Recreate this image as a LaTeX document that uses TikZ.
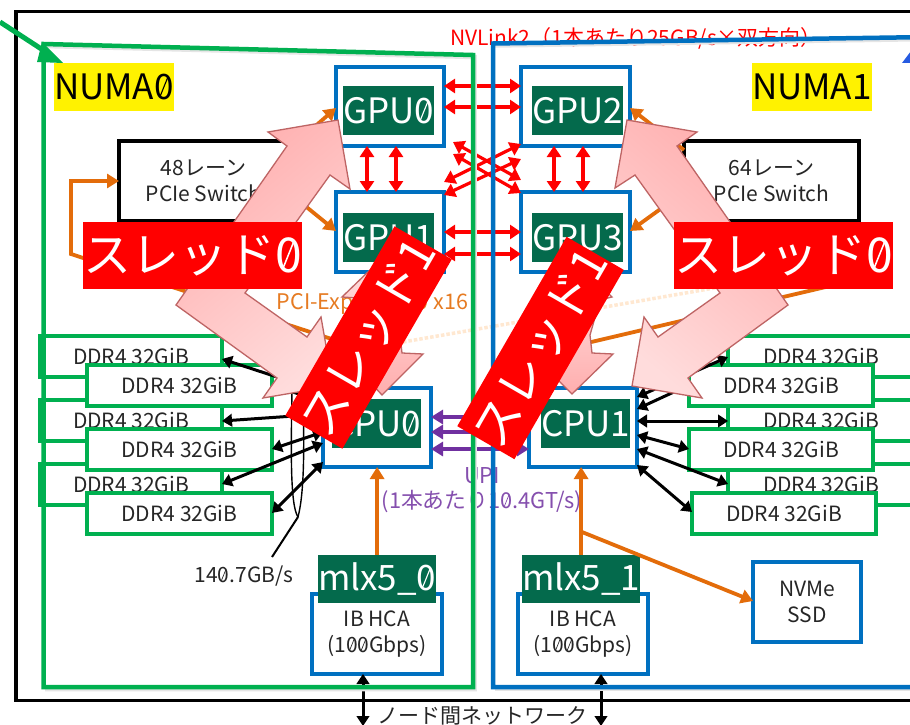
\documentclass[tikz,border=0pt]{standalone}
\usepackage{fontspec}
\usepackage{graphicx}
\setmainfont{Noto Sans CJK JP}
\usetikzlibrary{arrows.meta}
\definecolor{gr}{HTML}{00B050}
\definecolor{bl}{HTML}{0070C0}
\definecolor{dg}{HTML}{046A4C}
\definecolor{orng}{HTML}{E36C0A}
\definecolor{purp}{HTML}{7030A0}
\definecolor{redc}{HTML}{FF0000}
\definecolor{pinkd}{HTML}{FFAEAE}
\definecolor{pinkl}{HTML}{FFDCDC}
\definecolor{pinke}{HTML}{BE6464}
\newcommand\rectnode[7]{\pgfmathsetmacro\bw{#5-#3}\pgfmathsetmacro\bh{#6-#4}\node[#2,anchor=north west,minimum width=\bw pt,minimum height=\bh pt] (#1) at (#3,#4) {#7};}
% slashed zero
\newcommand\zs{\mbox{\setbox0=\hbox{0}\rlap{0}\hbox to\wd0{\hss\raisebox{0.365em}{\rotatebox[origin=c]{68}{\rule[-0.016em]{0.6em}{0.032em}}}\hss}}}
\tikzset{
  every node/.style={outer sep=0pt,inner sep=0pt},
  bluebox/.style={draw=bl,line width=3.6pt,fill=white,align=center,font=\fontsize{21}{26}\selectfont,text=black!85},
  blackbox/.style={draw=black,line width=3.6pt,fill=white,align=center,font=\fontsize{21}{25.5}\selectfont,text=black!85},
  ddrbox/.style={draw=gr,line width=3.8pt,fill=white,font=\fontsize{21}{25}\selectfont,text=black!85},
  chip/.style={fill=dg,text=white,font=\fontsize{35}{40}\selectfont},
  numalabel/.style={fill=yellow,text=black,font=\fontsize{35}{40}\selectfont},
  threadbox/.style={fill=redc,text=white,font=\fontsize{48}{55}\selectfont},
  plain/.style={font=\fontsize{21}{25}\selectfont,text=black!85},
  redarrow/.style={draw=redc,line width=3.2pt,{Triangle[length=11pt,width=14pt]}-{Triangle[length=11pt,width=14pt]}},
  blackarrow/.style={draw=black,line width=3pt,{Triangle[length=10pt,width=12.5pt]}-{Triangle[length=10pt,width=12.5pt]}},
  purplearrow/.style={draw=purp,line width=3.4pt,{Triangle[length=12pt,width=14pt]}-{Triangle[length=12pt,width=14pt]}},
  orangearrow/.style={draw=orng,line width=3.8pt,-{Triangle[length=12pt,width=14pt]}},
  orangeline/.style={draw=orng,line width=3.8pt},
  panelshadow/.style={draw=black!10,line width=4.5pt},
  bigarrow/.style={draw=pinke,line width=1.3pt,line join=miter},
}
\begin{document}
\begin{tikzpicture}[x=1pt,y=-1pt]
\useasboundingbox (0,0) rectangle (910,725);
\fill[white] (0,0) rectangle (910,725);
% pale dotted line
\draw[draw=orange!18!white,line width=3.5pt,dotted] (403,342) -- (720,287);
% outer frame
\draw[black,line width=3.6pt] (930,11.5) -- (16,11.5) -- (16,700.5) -- (930,700.5);
% back DDR
\rectnode{ddrA}{ddrbox}{40}{336}{222}{377}{DDR4 32GiB}
\rectnode{ddrB}{ddrbox}{40}{400}{222}{441}{DDR4 32GiB}
\rectnode{ddrC}{ddrbox}{40}{464}{222}{505}{DDR4 32GiB}
\rectnode{ddrG}{ddrbox}{728}{336}{914}{377}{DDR4 32GiB}
\rectnode{ddrH}{ddrbox}{728}{400}{914}{441}{DDR4 32GiB}
\rectnode{ddrI}{ddrbox}{728}{464}{914}{505}{DDR4 32GiB}
% front DDR
\rectnode{ddrD}{ddrbox}{87}{365}{272}{406}{DDR4 32GiB}
\rectnode{ddrE}{ddrbox}{87}{429}{272}{470}{DDR4 32GiB}
\rectnode{ddrF}{ddrbox}{87}{493}{272}{534}{DDR4 32GiB}
\rectnode{ddrJ}{ddrbox}{689}{365}{873}{406}{DDR4 32GiB}
\rectnode{ddrK}{ddrbox}{689}{429}{873}{470}{DDR4 32GiB}
\rectnode{ddrL}{ddrbox}{692}{493}{876}{534}{DDR4 32GiB}
% switches
\rectnode{swL}{blackbox}{119}{141}{288}{221}{48レーン\\PCIe Switch}
\rectnode{swR}{blackbox}{684}{141}{859}{221}{64レーン\\PCIe Switch}
% GPU
\rectnode{gpu0}{bluebox}{336}{67}{444}{146}{}
\rectnode{gpu1}{bluebox}{336}{192}{444}{272}{}
\rectnode{gpu2}{bluebox}{521}{67}{630}{146}{}
\rectnode{gpu3}{bluebox}{521}{192}{630}{272}{}
\rectnode{gpu0t}{chip}{343}{86}{433}{135}{GPU\zs}
\rectnode{gpu1t}{chip}{343}{213}{433}{262}{GPU1}
\rectnode{gpu2t}{chip}{532}{86}{622}{135}{GPU2}
\rectnode{gpu3t}{chip}{532}{213}{622}{262}{GPU3}
% CPU
\rectnode{cpu0}{bluebox}{323}{388}{431}{467}{}
\rectnode{cpu1}{bluebox}{529}{388}{637}{467}{}
\rectnode{cpu0t}{chip}{332}{399}{419}{448}{CPU\zs}
\rectnode{cpu1t}{chip}{541}{399}{629}{448}{CPU1}
% HCA, NVMe
\rectnode{hca0}{bluebox}{312}{594}{442}{674}{IB HCA\\(1\zs\zs Gbps)}
\rectnode{hca1}{bluebox}{518}{594}{648}{674}{IB HCA\\(1\zs\zs Gbps)}
\rectnode{mlx0}{chip}{318}{555}{436}{603}{mlx5\_\zs}
\rectnode{mlx1}{chip}{522}{555}{639}{603}{mlx5\_1}
\rectnode{nvme}{bluebox}{753}{562}{861}{642}{NVMe\\SSD}
% labels
\rectnode{numa0}{numalabel}{54}{63}{173}{111}{NUMA\zs}
\rectnode{numa1}{numalabel}{752}{63}{870}{111}{NUMA1}
\node[font=\fontsize{21}{25}\selectfont,text=redc] (nvlabel) at (636,38) {NVLink2（1本あたり25GB/s×双方向）};
\node[font=\fontsize{21.5}{25}\selectfont,text=orng!90!white] (pcilabel) at (372.5,304) {PCI-Express 3.\zs{} x16};
\node[font=\fontsize{21.8}{25}\selectfont,text=purp!85!white,align=center] (upilabel) at (482,490.5) {UPI\\(1本あたり1\zs.4GT/s)};
\node[plain] (speed) at (244,576) {14\zs.7GB/s};
\node[plain] (netlabel) at (482,716) {ノード間ネットワーク};
% orange connectors
\coordinate (loopA) at (71,181);
\coordinate (loopB) at (71,254);
\draw[orangearrow,line join=miter] (350,345) -- (loopB) -- (loopA) -- (swL.west |- loopA);
\draw[orangearrow] (swL.east |- 0,150) -- (gpu0.west |- 0,108);
\draw[orangearrow] (swL.east |- 0,192) -- (gpu1.west |- 0,231);
\draw[orangearrow] (swR.west |- 0,150) -- (gpu2.east |- 0,108);
\draw[orangearrow] (swR.west |- 0,192) -- (gpu3.east |- 0,231);
\coordinate (pcieR) at (830,286);
\draw[orangeline] (pcieR) -- (570,347);
\draw[orangearrow] (mlx0.north) -- (cpu0.south -| mlx0.north);
\draw[orangearrow] (mlx1.north) -- (cpu1.south -| mlx1.north);
\coordinate (branch) at (582,532);
\draw[orangearrow] (branch) -- (nvme.west |- 0,601);
% NVLink
\draw[redarrow] (gpu0.east |- 0,86) -- (gpu2.west |- 0,86);
\draw[redarrow] (gpu0.east |- 0,107) -- (gpu2.west |- 0,107);
\draw[redarrow] (gpu1.east |- 0,232) -- (gpu3.west |- 0,232);
\draw[redarrow] (gpu1.east |- 0,254) -- (gpu3.west |- 0,254);
\draw[redarrow] (gpu0.south -| 367,0) -- (gpu1.north -| 367,0);
\draw[redarrow] (gpu0.south -| 396,0) -- (gpu1.north -| 396,0);
\draw[redarrow] (gpu2.south -| 554,0) -- (gpu3.north -| 554,0);
\draw[redarrow] (gpu2.south -| 583,0) -- (gpu3.north -| 583,0);
\draw[redarrow] (gpu0.south east |- 0,142) ++(9,0) -- (gpu3.west |- 0,180);
\draw[redarrow] (gpu0.south east |- 0,154) ++(9,0) -- (gpu3.north west |- 0,193);
\draw[redarrow] (gpu2.south west |- 0,144) -- (gpu1.east |- 0,182);
\draw[redarrow] (gpu2.west |- 0,159) -- (gpu1.north east |- 0,195);
% UPI
\draw[purplearrow] (cpu0.east |- 0,417) -- (cpu1.west |- 0,417);
\draw[purplearrow] (cpu0.east |- 0,432) -- (cpu1.west |- 0,432);
\draw[purplearrow] (cpu0.east |- 0,449) -- (cpu1.west |- 0,449);
% network
\coordinate (netL) at (363,726);
\coordinate (netR) at (601,726);
\draw[blackarrow] (hca0.south -| netL) -- (netL);
\draw[blackarrow] (hca1.south -| netR) -- (netR);
% memory channels
\draw[blackarrow] (cpu0.west |- 0,392) -- (ddrA.east |- 0,359);
\draw[blackarrow] (cpu0.west |- 0,402) -- (ddrD.east |- 0,385);
\draw[blackarrow] (cpu0.west |- 0,414) -- (ddrB.east |- 0,421);
\draw[blackarrow] (cpu0.west |- 0,432) -- (ddrE.east |- 0,449);
\draw[blackarrow] (cpu0.west |- 0,443) -- (ddrC.east |- 0,484);
\draw[blackarrow] (cpu0.west |- 0,462) -- (ddrF.east |- 0,513);
\draw[blackarrow] (cpu1.east |- 0,397) -- (ddrG.west |- 0,357);
\draw[blackarrow] (cpu1.east |- 0,409) -- (ddrJ.west |- 0,385);
\draw[blackarrow] (cpu1.east |- 0,421) -- (ddrH.west |- 0,421);
\draw[blackarrow] (cpu1.east |- 0,435) -- (ddrK.west |- 0,449);
\draw[blackarrow] (cpu1.east |- 0,449) -- (ddrI.west |- 0,484);
\draw[blackarrow] (cpu1.east |- 0,465) -- (ddrL.west |- 0,512);
% brace
\coordinate (lead) at (298,517);
\coordinate (leadStart) at (272,557);
\draw[black,line width=2pt] (leadStart) -- (lead);
\draw[black,line width=1.4pt] (lead) .. controls (290,505) and (291,450) .. (292,390);
\draw[black,line width=1.4pt] (lead) .. controls (305,490) and (304,440) .. (303,390);
% panels
\coordinate (gTL) at (43.5,44);
\coordinate (gTR) at (473,55);
\coordinate (gBR) at (473,687);
\coordinate (gBL) at (43.5,687);
\coordinate (bTL) at (493,43.5);
\coordinate (bTR) at (930,37);
\coordinate (bBR) at (930,687);
\coordinate (bBL) at (493,687);
\draw[panelshadow] ([shift={(1.5,2)}]gTL) -- ([shift={(1.5,2)}]gTR) -- ([shift={(1.5,2)}]gBR) -- ([shift={(1.5,2)}]gBL);
\draw[panelshadow] ([shift={(1.5,2)}]bTL) -- ([shift={(1.5,2)}]bTR);
\draw[panelshadow] ([shift={(1.5,2)}]bBL) -- ([shift={(1.5,2)}]bBR);
\draw[draw=gr,line width=4.5pt,line join=miter] (gTL) -- (gTR) -- (gBR) -- (gBL) -- cycle;
\draw[draw=bl,line width=4.5pt,line join=miter] (bTL) -- (bTR) -- (bBR) -- (bBL) -- cycle;
\coordinate (gArrowStart) at (0,22);
\draw[draw=gr,line width=5pt] (gArrowStart) -- (46,52);
\fill[gr] (42,42) -- (63,63) -- (37,62) -- cycle;
\fill[blue!45!bl!85!white] (902,63) -- (911,51) -- (911,63) -- cycle;
% small pink arrows
\draw[bigarrow,top color=pinkl,bottom color=pinkd] (342,297) -- (370,270) -- (395,300) -- (400,335) -- (402,353) -- (423,354) -- (382,395) -- (370,382) -- (358,298) -- cycle;
\draw[bigarrow,top color=pinkl,bottom color=pinkd] (598,283) -- (612,297) -- (600,300) -- (590,335) -- (592,353) -- (613,354) -- (572,394) -- (559,381) -- (570,320) -- cycle;
% big pink arrows
\draw[bigarrow,top color=pinkd,bottom color=pinkl,shading angle=40]
  (338,120) -- (350,189) -- (330,175) -- (245,293) -- (307,337) -- (321,317) -- (333,386) -- (263,398) -- (277,378) -- (176,305) -- (287,146) -- (268,132) -- cycle;
\draw[bigarrow,top color=pinkd,bottom color=pinkl,shading angle=-40]
  (627,120) -- (697,132) -- (677,146) -- (788,305) -- (688,378) -- (702,398) -- (632,386) -- (644,317) -- (658,337) -- (720,293) -- (635,175) -- (615,188) -- cycle;
% thread labels
\rectnode{th0L}{threadbox}{83}{222}{302}{289}{スレッド\zs}
\rectnode{th0R}{threadbox}{674}{222}{893}{289}{スレッド\zs}
\node[threadbox,rotate=60,minimum width=213pt,minimum height=66pt] (th1L) at (368.5,337.5) {スレッド1};
\node[threadbox,rotate=60,minimum width=213pt,minimum height=66pt] (th1R) at (540.5,348) {スレッド1};
\end{tikzpicture}
\end{document}
